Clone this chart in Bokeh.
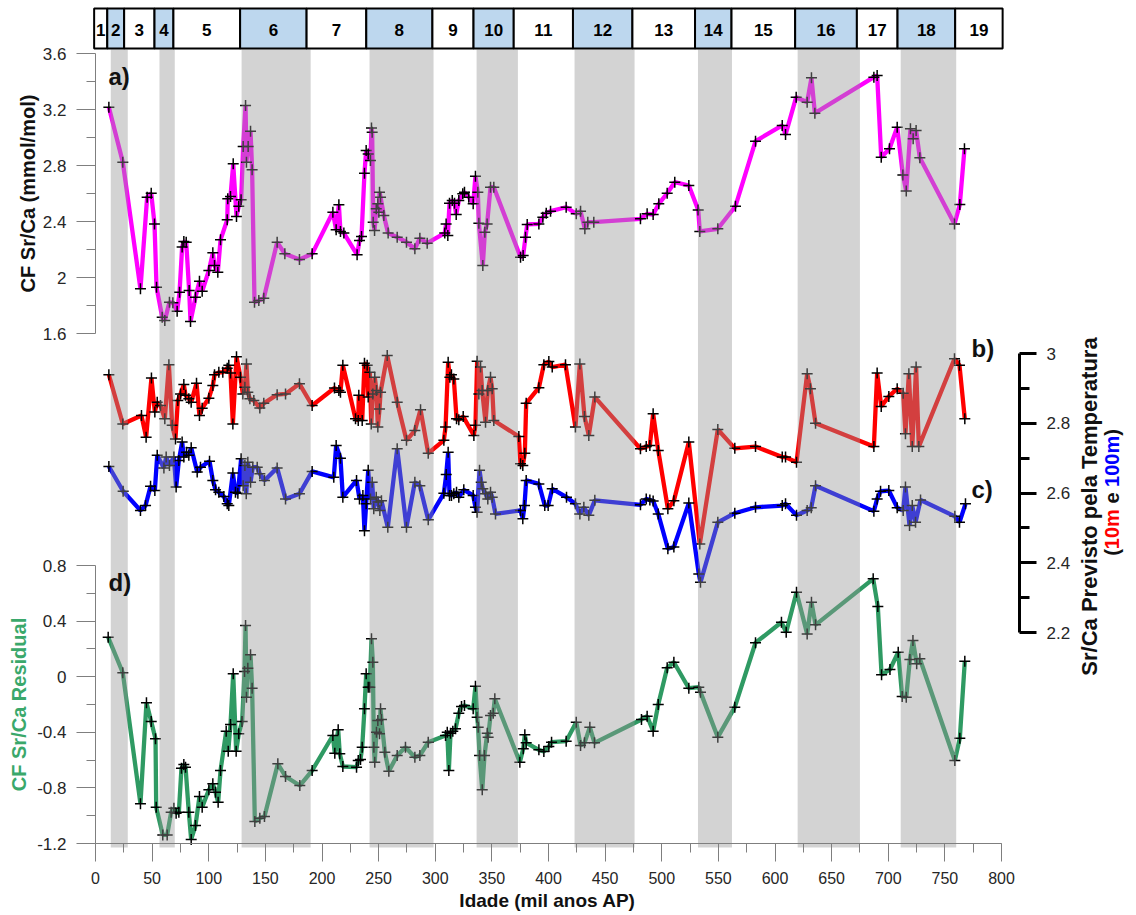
import math
from bokeh.plotting import figure
from bokeh.models import (Range1d, LinearAxis, FixedTicker, SingleIntervalTicker,
                          CustomJSTickFormatter, Label)
from bokeh.embed import file_html
from bokeh.resources import INLINE
from bokeh.core.properties import value

# ---------------- data ----------------
age_a = [11.8, 24.1, 39.7, 45.6, 49.2, 52.1, 53.9, 58.9, 61.2, 65.3, 68.3, 72.1, 74.2, 76.5, 78.0,
         80.1, 82.7, 83.9, 88.3, 91.8, 94.2, 100.1, 103.6, 105.1, 108.0, 110.4, 116.3, 116.8, 119.2,
         121.6, 124.5, 126.5, 128.6, 130.4, 132.5, 133.3, 134.8, 136.9, 138.3, 140.4, 144.2, 148.6,
         160.4, 167.2, 180.1, 191.3, 209.6, 212.5, 214.9, 216.3, 219.3, 231.0, 233.1, 234.9, 237.5,
         239.0, 240.8, 242.8, 243.7, 244.3, 245.2, 246.4, 247.9, 249.3, 250.2, 250.8, 251.7, 254.6,
         258.4, 266.4, 274.6, 282.0, 286.4, 292.9, 308.4, 309.6, 311.1, 312.6, 315.0, 317.0, 318.5,
         320.8, 324.3, 325.8, 329.6, 333.5, 335.5, 337.6, 338.5, 342.0, 343.8, 345.8, 348.8, 351.7,
         375.3, 377.6, 379.7, 381.2, 391.5, 395.0, 398.0, 401.8, 415.6, 424.5, 428.3, 432.1, 434.7,
         440.0, 481.2, 487.1, 492.4, 497.4, 504.8, 511.5, 523.9, 532.2, 533.6, 549.5, 565.1, 582.8,
         606.4, 609.3, 618.7, 628.4, 632.2, 635.2, 687.3, 690.2, 693.8, 701.1, 707.9, 712.9, 715.9,
         719.6, 722.0, 724.6, 727.9, 758.5, 763.2, 767.3]
cf_srca = [3.216, 2.824, 1.919, 2.574, 2.602, 2.383, 1.931, 1.716, 1.693, 1.824, 1.819, 1.759, 1.895,
           2.217, 2.257, 2.252, 1.907, 1.686, 1.859, 1.974, 1.902, 2.050, 2.176, 2.086, 2.038, 2.269,
           2.412, 2.562, 2.579, 2.812, 2.436, 2.509, 2.555, 2.936, 3.229, 2.824, 2.936, 3.045, 2.769,
           1.824, 1.836, 1.852, 2.252, 2.169, 2.129, 2.169, 2.466, 2.341, 2.519, 2.329, 2.317, 2.162,
           2.264, 2.293, 2.745, 2.907, 2.883, 2.836, 3.067, 3.038, 2.395, 2.336, 2.491, 2.526, 2.466,
           2.609, 2.574, 2.443, 2.317, 2.288, 2.252, 2.205, 2.281, 2.245, 2.317, 2.383, 2.300, 2.531,
           2.550, 2.531, 2.450, 2.550, 2.598, 2.609, 2.574, 2.526, 2.724, 2.609, 2.388, 2.086, 2.324,
           2.383, 2.645, 2.645, 2.145, 2.157, 2.288, 2.379, 2.383, 2.431, 2.459, 2.474, 2.502, 2.455,
           2.474, 2.348, 2.395, 2.395, 2.419, 2.455, 2.450, 2.526, 2.602, 2.681, 2.657, 2.483, 2.329,
           2.348, 2.509, 2.974, 3.086, 3.021, 3.288, 3.252, 3.426, 3.174, 3.431, 3.443, 2.859, 2.919,
           3.074, 2.733, 2.617, 3.062, 2.991, 3.050, 2.855, 2.383, 2.521, 2.919]

age_b = [11.8, 24.1, 40.6, 44.7, 49.4, 52.4, 54.5, 57.4, 61.2, 64.8, 67.7, 70.6, 72.7, 75.1, 78.0,
         79.5, 82.4, 84.5, 89.2, 91.8, 94.2, 100.1, 103.6, 105.1, 108.9, 112.4, 116.3, 117.7, 119.2,
         121.3, 124.5, 128.0, 130.1, 131.9, 133.3, 134.5, 136.3, 139.8, 145.1, 148.6, 160.4, 167.8,
         180.1, 191.3, 211.0, 214.9, 216.3, 218.4, 229.6, 232.0, 232.5, 235.5, 237.5, 239.9, 240.8,
         242.2, 243.5, 244.9, 246.6, 248.1, 249.3, 250.8, 251.7, 257.6, 266.4, 274.6, 282.0, 287.0,
         293.8, 307.6, 309.1, 311.4, 312.9, 314.3, 316.4, 318.8, 320.8, 324.7, 334.1, 335.5, 337.0,
         338.5, 340.0, 341.4, 344.4, 346.4, 348.8, 350.3, 351.7, 373.8, 375.3, 377.3, 379.1, 380.3,
         391.5, 395.9, 400.3, 403.3, 415.0, 423.8, 427.7, 431.8, 435.6, 440.9, 481.2, 486.3, 489.5,
         492.4, 496.9, 505.4, 510.7, 523.9, 533.6, 549.5, 564.5, 582.8, 606.4, 609.3, 619.0, 628.4,
         631.3, 635.8, 687.3, 690.2, 693.8, 700.5, 707.9, 713.2, 715.2, 718.2, 721.2, 724.6, 727.0,
         758.5, 762.9, 767.6]
srca_10m = [2.939, 2.798, 2.822, 2.760, 2.930, 2.832, 2.860, 2.851, 2.813, 2.968, 2.794, 2.755, 2.865,
            2.884, 2.911, 2.880, 2.870, 2.860, 2.915, 2.822, 2.843, 2.872, 2.908, 2.939, 2.946, 2.946,
            2.958, 2.966, 2.944, 2.798, 2.991, 2.932, 2.884, 2.903, 2.970, 2.889, 2.870, 2.865, 2.844,
            2.857, 2.882, 2.884, 2.913, 2.851, 2.901, 2.894, 2.889, 2.966, 2.813, 2.808, 2.880, 2.808,
            2.972, 2.966, 2.875, 2.946, 2.798, 2.884, 2.932, 2.894, 2.789, 2.841, 2.889, 2.994, 2.860,
            2.751, 2.779, 2.839, 2.714, 2.751, 2.789, 2.975, 2.932, 2.939, 2.927, 2.813, 2.810, 2.819,
            2.765, 2.794, 2.978, 2.884, 2.961, 2.894, 2.803, 2.894, 2.932, 2.899, 2.808, 2.762, 2.684,
            2.679, 2.714, 2.857, 2.902, 2.968, 2.977, 2.961, 2.968, 2.789, 2.970, 2.819, 2.765, 2.875,
            2.727, 2.733, 2.736, 2.827, 2.722, 2.555, 2.578, 2.746, 2.454, 2.782, 2.728, 2.733, 2.703,
            2.703, 2.688, 2.942, 2.899, 2.800, 2.733, 2.944, 2.848, 2.877, 2.899, 2.886, 2.770, 2.942,
            2.733, 2.961, 2.733, 2.985, 2.966, 2.813]

age_c = [11.8, 24.4, 39.7, 44.2, 48.6, 52.4, 54.5, 60.4, 62.4, 65.3, 69.2, 71.2, 73.6, 76.5, 78.0,
         80.4, 82.4, 84.5, 89.8, 92.7, 100.7, 103.6, 106.0, 108.9, 113.3, 116.3, 117.7, 121.3, 123.6,
         125.7, 128.6, 130.4, 131.9, 133.1, 134.5, 136.9, 138.9, 142.8, 145.1, 149.2, 160.4, 167.8,
         180.1, 191.3, 210.4, 212.5, 216.3, 218.4, 230.5, 233.1, 236.1, 237.5, 239.0, 240.8, 242.8,
         244.3, 245.7, 247.9, 249.6, 251.1, 252.5, 258.1, 266.4, 274.6, 282.0, 286.4, 293.8, 307.6,
         309.7, 311.4, 312.6, 314.3, 316.4, 318.8, 320.8, 325.2, 333.5, 335.5, 337.0, 339.1, 340.6,
         342.0, 344.4, 346.4, 348.8, 350.3, 353.2, 375.3, 377.3, 378.8, 380.3, 391.5, 396.7, 399.7,
         403.3, 415.9, 423.8, 427.7, 431.2, 435.6, 440.9, 481.2, 486.3, 489.5, 492.4, 496.9, 505.4,
         510.7, 523.9, 532.7, 534.2, 549.5, 564.5, 582.8, 606.4, 609.3, 619.0, 628.4, 632.0, 635.8,
         687.3, 690.2, 693.2, 700.5, 707.9, 713.2, 715.2, 718.8, 721.2, 724.1, 728.5, 758.8, 762.9,
         768.2]
srca_100m = [2.676, 2.605, 2.550, 2.564, 2.619, 2.607, 2.708, 2.672, 2.703, 2.679, 2.703, 2.617,
             2.693, 2.746, 2.703, 2.717, 2.708, 2.730, 2.660, 2.674, 2.691, 2.636, 2.609, 2.602,
             2.590, 2.569, 2.564, 2.657, 2.602, 2.599, 2.698, 2.621, 2.679, 2.598, 2.688, 2.631,
             2.674, 2.674, 2.655, 2.636, 2.672, 2.583, 2.598, 2.662, 2.645, 2.736, 2.700, 2.588,
             2.636, 2.583, 2.593, 2.492, 2.569, 2.665, 2.583, 2.631, 2.555, 2.588, 2.574, 2.550,
             2.578, 2.502, 2.727, 2.502, 2.631, 2.621, 2.523, 2.599, 2.653, 2.717, 2.593, 2.593,
             2.598, 2.602, 2.588, 2.609, 2.593, 2.559, 2.545, 2.665, 2.631, 2.612, 2.598, 2.583,
             2.602, 2.588, 2.540, 2.550, 2.526, 2.564, 2.636, 2.626, 2.564, 2.564, 2.612, 2.588,
             2.569, 2.540, 2.559, 2.536, 2.579, 2.566, 2.583, 2.580, 2.577, 2.540, 2.440, 2.445,
             2.571, 2.368, 2.344, 2.516, 2.542, 2.559, 2.564, 2.569, 2.536, 2.550, 2.558, 2.621,
             2.548, 2.583, 2.605, 2.607, 2.558, 2.550, 2.617, 2.507, 2.564, 2.516, 2.580, 2.533,
             2.516, 2.569]

age_d = [11.2, 24.1, 39.7, 45.0, 49.2, 53.0, 53.6, 59.4, 63.3, 66.8, 69.2, 71.2, 73.6, 75.9, 78.0,
         79.5, 82.4, 84.5, 88.3, 91.8, 94.2, 100.1, 103.6, 106.0, 108.3, 110.4, 115.4, 117.2, 119.2,
         121.6, 124.2, 126.5, 129.5, 131.6, 132.5, 133.3, 134.5, 136.9, 138.3, 140.7, 145.1, 149.2,
         161.0, 167.8, 180.4, 191.3, 209.6, 211.3, 214.3, 215.7, 218.4, 230.5, 232.0, 234.0, 235.5,
         237.5, 239.0, 240.8, 242.2, 243.7, 244.9, 245.8, 246.6, 248.1, 249.3, 250.8, 251.7, 252.5,
         255.5, 259.0, 266.4, 273.7, 282.0, 286.4, 293.8, 309.1, 310.6, 312.0, 313.5, 315.5, 317.9,
         320.8, 323.2, 325.8, 333.5, 335.5, 337.0, 337.9, 339.1, 341.5, 343.5, 345.9, 346.7, 348.8,
         351.2, 352.6, 374.7, 377.7, 379.1, 380.3, 391.5, 395.9, 400.3, 402.7, 415.6, 424.5, 428.3,
         431.8, 436.5, 440.6, 482.1, 487.1, 492.4, 496.9, 504.8, 510.7, 523.9, 532.7, 534.2, 549.5,
         564.5, 582.8, 605.7, 609.9, 619.0, 628.4, 632.2, 635.8, 686.7, 690.8, 694.1, 701.5, 708.8,
         712.3, 715.9, 719.1, 721.8, 725.1, 727.9, 758.8, 763.2, 767.6]
residual = [0.284, 0.028, -0.914, -0.188, -0.322, -0.447, -0.939, -1.138, -1.138, -0.975, -0.946,
            -0.982, -0.975, -0.658, -0.632, -0.651, -0.975, -1.171, -1.071, -0.862, -0.939, -0.814,
            -0.771, -0.831, -0.903, -0.675, -0.392, -0.536, -0.344, 0.021, -0.536, -0.411, -0.322,
            0.038, 0.368, -0.147, 0.061, 0.158, -0.083, -1.042, -1.018, -1.006, -0.627, -0.718,
            -0.783, -0.675, -0.423, -0.550, -0.382, -0.555, -0.646, -0.651, -0.603, -0.596, -0.507,
            -0.231, 0.021, -0.075, -0.075, 0.273, 0.104, -0.507, -0.615, -0.399, -0.315, -0.411,
            -0.231, -0.308, -0.543, -0.680, -0.567, -0.507, -0.579, -0.567, -0.471, -0.423, -0.399,
            -0.675, -0.406, -0.392, -0.375, -0.263, -0.214, -0.207, -0.231, -0.068, -0.291, -0.363,
            -0.567, -0.814, -0.567, -0.406, -0.435, -0.279, -0.263, -0.159, -0.615, -0.519, -0.418,
            -0.476, -0.526, -0.538, -0.502, -0.471, -0.464, -0.327, -0.495, -0.476, -0.363, -0.476,
            -0.308, -0.284, -0.392, -0.200, 0.064, 0.104, -0.083, -0.075, -0.111, -0.435, -0.219,
            0.244, 0.392, 0.320, 0.608, 0.308, 0.536, 0.373, 0.704, 0.505, 0.014, 0.052, 0.176,
            -0.142, -0.147, 0.124, 0.260, 0.093, 0.129, -0.603, -0.442, 0.112]

# glacial (even) marine isotope stages shaded in grey
glacial_start = [13.5, 56.5, 129.0, 242.0, 336.5, 423.0, 532.0, 620.0, 711.0]
glacial_end = [28.5, 70.0, 190.0, 298.5, 373.0, 476.0, 562.0, 675.0, 760.0]
# MIS boxes of the top bar
mis_edges = [-1.2, 10.4, 25.3, 52.1, 68.8, 127.7, 186.4, 239.1, 297.5, 333.8, 369.3, 421.6,
             474.1, 529.4, 561.6, 617.8, 672.3, 708.2, 759.1, 801.0]
mis_labels = ["1", "2", "3", "4", "5", "6", "7", "8", "9", "10", "11", "12", "13", "14", "15",
              "16", "17", "18", "19"]

a_ticks = [1.6, 2.0, 2.4, 2.8, 3.2, 3.6]
a_minor = [1.8, 2.2, 2.6, 3.0, 3.4]
d_ticks = [-1.2, -0.8, -0.4, 0.0, 0.4, 0.8]
d_minor = [-1.0, -0.6, -0.2, 0.2, 0.6]
r_ticks = [2.2, 2.4, 2.6, 2.8, 3.0]
r_minor = [2.3, 2.5, 2.7, 2.9]

# ---------------- layout (page pixels; the page has no margin) ----------------
W, H = 1130, 912
FL, FR, FB = 95, 1019, 843          # left / right / bottom axis positions
X_PER_KA = 1.1325
A_REF, A_REF_PY, A_SCALE = 3.6, 53.0, 140.0
D_REF, D_REF_PY, D_SCALE = 0.8, 565.0, 139.0
R_REF, R_REF_PY, R_SCALE = 3.0, 353.0, 348.75
FONT = "Liberation Sans"
GRAY = "#7f7f7f"
TICK_FMT = "return Number(tick.toFixed(1)).toString();"


def vrange(ref, ref_py, scale):
    return Range1d(ref - (H - ref_py) / scale, ref + ref_py / scale)


p = figure(width=W, height=H, x_range=Range1d(-FL / X_PER_KA, (W - FL) / X_PER_KA),
           y_range=vrange(A_REF, A_REF_PY, A_SCALE),
           output_backend="svg", toolbar_location=None,
           x_axis_location=None, y_axis_location=None,
           min_border_left=0, min_border_right=0, min_border_top=0, min_border_bottom=0,
           outline_line_color=None, background_fill_color="white", border_fill_color="white")
p.extra_y_ranges = {"d": vrange(D_REF, D_REF_PY, D_SCALE),
                    "r": vrange(R_REF, R_REF_PY, R_SCALE),
                    "py": Range1d(H, 0)}
p.extra_x_ranges = {"px": Range1d(0, W)}
p.grid.visible = False

# ---------------- series ----------------
LW = 4.3


def series(x, y, color, rng="default"):
    p.line(x, y, line_color=color, line_width=LW, y_range_name=rng)
    p.scatter(x, y, marker="cross", size=11, line_color="black", line_width=1.5,
              y_range_name=rng)


series(age_a, cf_srca, "#FF00FF")
series(age_b, srca_10m, "#FF0000", "r")
series(age_c, srca_100m, "#0000FF", "r")
series(age_d, residual, "#2F9A63", "d")

# grey glacial bands (semi-transparent, on top)
p.quad(left=glacial_start, right=glacial_end, bottom=FB + 4, top=49, y_range_name="py",
       fill_color="#979797", fill_alpha=0.42, line_color=None)

# MIS bar
lefts = mis_edges[:-1]
rights = mis_edges[1:]
fills = ["#BDD7EE" if int(s) % 2 == 0 else "white" for s in mis_labels]
p.quad(left=lefts, right=rights, bottom=48, top=8, y_range_name="py",
       fill_color=fills, line_color="black", line_width=2)
p.text(x=[(l + r) / 2 for l, r in zip(lefts, rights)], y=[29] * len(mis_labels),
       text=mis_labels, y_range_name="py", text_align="center", text_baseline="middle",
       text_font=value(FONT), text_font_style="bold", text_font_size="17px", text_color="black")


# ---------------- axes (placed at fixed positions) ----------------
def style(ax, tick_out, minor_out, color, width, size):
    ax.axis_line_color = color
    ax.axis_line_width = width
    ax.major_tick_out = tick_out
    ax.major_tick_in = 0
    ax.minor_tick_out = minor_out
    ax.minor_tick_in = 0
    ax.major_tick_line_color = color
    ax.minor_tick_line_color = color
    ax.major_tick_line_width = width
    ax.minor_tick_line_width = width
    ax.major_label_text_font = FONT
    ax.major_label_text_font_size = size
    ax.major_label_text_color = "#262626"
    ax.major_label_standoff = 10


ax_a = LinearAxis(x_range_name="px", fixed_location=FL, bounds=(a_ticks[0], a_ticks[-1]),
                  ticker=FixedTicker(ticks=a_ticks, minor_ticks=a_minor),
                  formatter=CustomJSTickFormatter(code=TICK_FMT))
style(ax_a, 19, 9, GRAY, 1, "17px")
p.add_layout(ax_a, "left")

ax_d = LinearAxis(x_range_name="px", y_range_name="d", fixed_location=FL,
                  bounds=(d_ticks[0], d_ticks[-1]),
                  ticker=FixedTicker(ticks=d_ticks, minor_ticks=d_minor),
                  formatter=CustomJSTickFormatter(code=TICK_FMT))
style(ax_d, 19, 9, GRAY, 1, "17px")
p.add_layout(ax_d, "left")

ax_r = LinearAxis(x_range_name="px", y_range_name="r", fixed_location=FR,
                  bounds=(r_ticks[0], r_ticks[-1]),
                  ticker=FixedTicker(ticks=r_ticks, minor_ticks=r_minor),
                  formatter=CustomJSTickFormatter(code=TICK_FMT))
style(ax_r, 17, 10, "black", 3, "17px")
p.add_layout(ax_r, "right")

ax_x = LinearAxis(y_range_name="py", fixed_location=FB, bounds=(0, 800),
                  ticker=SingleIntervalTicker(interval=50, num_minor_ticks=2))
style(ax_x, 18, 9, GRAY, 1, "16px")
p.add_layout(ax_x, "below")


# ---------------- texts ----------------
def label(text, x, y, size, color="#111111", angle=0.0, align="center"):
    p.add_layout(Label(x=x, y=y, x_range_name="px", y_range_name="py", text=text, angle=angle,
                       text_font=FONT, text_font_style="bold", text_font_size=f"{size}px",
                       text_color=color, text_align=align, text_baseline="middle"))


label("a)", 108, 76, 24, align="left")
label("b)", 971, 348, 24, align="left")
label("c)", 971, 489, 24, align="left")
label("d)", 108, 582, 24, align="left")
label("CF Sr/Ca (mmol/mol)", 27, 193, 20, angle=math.pi / 2)
label("CF Sr/Ca Residual", 18, 704, 20, color="#3AA86B", angle=math.pi / 2)
label("Idade (mil anos AP)", 547, 900, 19)
label("Sr/Ca Previsto pela Temperatura", 1089, 506, 22, angle=math.pi / 2)

# second line of the right title, coloured parts
S2 = 20
parts = [("(", "#111111", 0.0), ("10m", "#FF0000", 0.333), ("e", "#111111", 0.333 + 2.001 + 0.278),
         ("100m", "#0000FF", 0.333 + 2.001 + 0.278 + 0.556 + 0.278),
         (")", "#111111", 0.333 + 2.001 + 0.278 + 0.556 + 0.278 + 2.557)]
total = 0.333 + 2.001 + 0.278 + 0.556 + 0.278 + 2.557 + 0.333
y_start = 492 + total * S2 / 2
for txt, col, off in parts:
    label(txt, 1111, y_start - off * S2, S2, color=col, angle=math.pi / 2, align="left")

open("out.html", "w").write(file_html(p, INLINE))
